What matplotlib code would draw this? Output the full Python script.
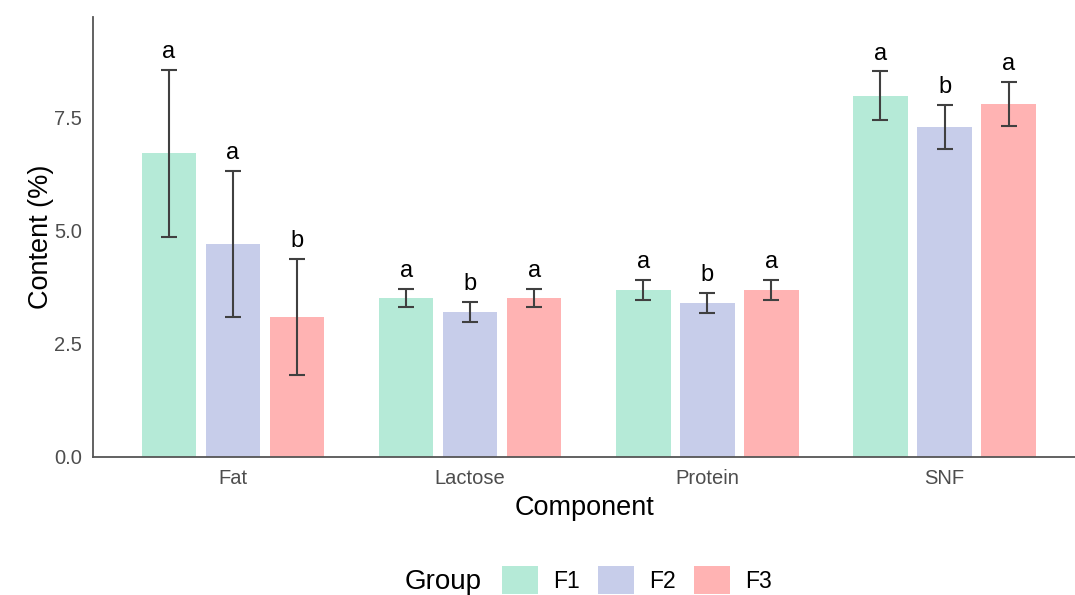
import numpy as np
import matplotlib.pyplot as plt
from matplotlib.patches import Patch

plt.rcParams['font.family'] = ['Liberation Sans', 'DejaVu Sans']

components = ["Fat", "Lactose", "Protein", "SNF"]
groups = ["F1", "F2", "F3"]
means = {
    "F1": [6.70, 3.51, 3.69, 7.97],
    "F2": [4.70, 3.20, 3.40, 7.28],
    "F3": [3.09, 3.51, 3.69, 7.79],
}
sds = {
    "F1": [1.84, 0.20, 0.22, 0.54],
    "F2": [1.61, 0.22, 0.22, 0.49],
    "F3": [1.28, 0.20, 0.22, 0.49],
}
letters = {
    "F1": ["a", "a", "a", "a"],
    "F2": ["a", "b", "b", "b"],
    "F3": ["b", "a", "a", "a"],
}
colors = {"F1": "#b5ead7", "F2": "#c7cdea", "F3": "#ffb3b3"}

fig = plt.figure(figsize=(10.75, 5.95), dpi=100)
ax = fig.add_axes([93/1075, 1 - 457/595, 1 - 93/1075, 440/595])

x = np.arange(1, len(components) + 1)
dodge = 0.27
width = 0.23
for i, g in enumerate(groups):
    xs = x + (i - 1) * dodge
    m = np.array(means[g])
    s = np.array(sds[g])
    ax.bar(xs, m, width=width, color=colors[g], zorder=1)
    ax.errorbar(xs, m, yerr=s, fmt='none', ecolor='#404040', elinewidth=1.5,
                capsize=6, capthick=1.5, zorder=2)
    for xi, top, lab in zip(xs, m + s, letters[g]):
        ax.text(xi, top + 0.15, lab, ha='center', va='bottom', fontsize=17, color='black')

ax.set_xlim(0.41, 4.55)
ax.set_ylim(0, 9.71)
ax.set_yticks([0, 2.5, 5.0, 7.5])
ax.set_yticklabels(["0.0", "2.5", "5.0", "7.5"])
ax.set_xticks(x)
ax.set_xticklabels(components)
ax.tick_params(axis='both', length=0, labelsize=14.5, labelcolor='#4d4d4d')
ax.tick_params(axis='y', pad=8)
ax.tick_params(axis='x', pad=9)
for side in ['top', 'right']:
    ax.spines[side].set_visible(False)
for side in ['left', 'bottom']:
    ax.spines[side].set_color('#555555')
    ax.spines[side].set_linewidth(1.3)
ax.set_xlabel("Component", fontsize=19.5, labelpad=5)
ax.set_ylabel("Content (%)", fontsize=19.5, labelpad=0)

handles = [Patch(facecolor=colors[g], edgecolor='none') for g in groups]
fig.legend(handles, groups, ncol=3, loc='center left',
           bbox_to_anchor=(502/1075, 1 - 580/595), frameon=False,
           fontsize=16.5, handlelength=1.57, handleheight=1.5,
           handletextpad=0.65, columnspacing=0.8, borderaxespad=0, borderpad=0)
fig.text(405/1075, 1 - 582/595, "Group", fontsize=20, va='center', ha='left')

fig.savefig("out.png", dpi=100)
